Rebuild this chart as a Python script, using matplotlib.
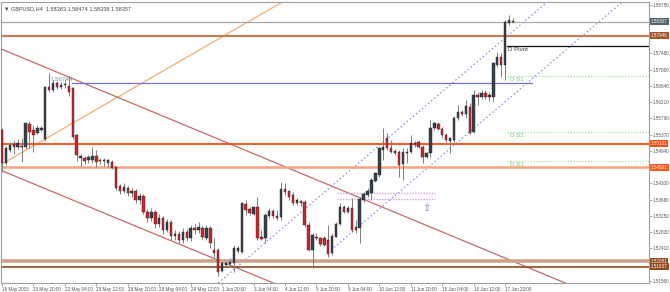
import matplotlib
matplotlib.use('Agg')
import matplotlib.pyplot as plt
from matplotlib.transforms import blended_transform_factory

plt.rcParams['font.family'] = ['Liberation Sans', 'DejaVu Sans']

title_text = "\u25bc GBPUSD,H4  1.58383 1.58474 1.58338 1.58357"

opens = [1.55490, 1.54632, 1.54970, 1.55126, 1.55048, 1.55074, 1.55048, 1.55646, 1.55490, 1.55412,
         1.55490, 1.55256, 1.56608, 1.56530, 1.56712, 1.56608, 1.56660, 1.56634, 1.56582, 1.55360,
         1.54762, 1.54762, 1.54710, 1.54710, 1.54814, 1.54710, 1.54684, 1.54632, 1.54658, 1.54528,
         1.54034, 1.53904, 1.53982, 1.53852, 1.53904, 1.53670, 1.53774, 1.53358, 1.53202, 1.53358,
         1.53046, 1.53202, 1.52890, 1.53098, 1.52734, 1.52786, 1.52630, 1.52838, 1.52682, 1.52942,
         1.52890, 1.52942, 1.52682, 1.52942, 1.52370, 1.52370, 1.51824, 1.51980, 1.52006, 1.52032,
         1.52344, 1.52318, 1.53566, 1.53436, 1.53306, 1.53488, 1.52708, 1.52682, 1.53254, 1.53384,
         1.53254, 1.53228, 1.53956, 1.53904, 1.53800, 1.53592, 1.53644, 1.53618, 1.53020, 1.52370,
         1.52708, 1.52682, 1.52682, 1.52630, 1.52292, 1.52708, 1.53046, 1.53488, 1.53358, 1.53462,
         1.52968, 1.52942, 1.53670, 1.53800, 1.53852, 1.54164, 1.54320, 1.54970, 1.55282, 1.55022,
         1.54892, 1.54918, 1.54606, 1.54892, 1.54918, 1.55152, 1.55178, 1.55048, 1.54788, 1.54892,
         1.55542, 1.55646, 1.55516, 1.55360, 1.55204, 1.55230, 1.55802, 1.55958, 1.55906, 1.56088,
         1.55438, 1.56400, 1.56348, 1.56452, 1.56348, 1.56348, 1.57180, 1.57388, 1.57180, 1.58272,
         1.58324]
highs = [1.55542, 1.55074, 1.55178, 1.55230, 1.55256, 1.55282, 1.55698, 1.55724, 1.55620, 1.55620,
         1.55594, 1.56634, 1.56972, 1.56790, 1.56764, 1.56738, 1.56816, 1.56894, 1.56608, 1.55386,
         1.54866, 1.54814, 1.54840, 1.55048, 1.54970, 1.54762, 1.54762, 1.54736, 1.54710, 1.54554,
         1.54086, 1.54112, 1.54034, 1.53982, 1.53956, 1.53852, 1.53826, 1.53436, 1.53462, 1.53410,
         1.53306, 1.53254, 1.53176, 1.53150, 1.52890, 1.52864, 1.52942, 1.52916, 1.53020, 1.53046,
         1.53098, 1.52994, 1.53020, 1.52994, 1.52682, 1.52422, 1.52058, 1.52084, 1.52162, 1.52500,
         1.52474, 1.53618, 1.53670, 1.53488, 1.53514, 1.53748, 1.52890, 1.53332, 1.53462, 1.53436,
         1.53410, 1.54138, 1.54112, 1.53930, 1.53878, 1.53722, 1.53670, 1.53670, 1.53098, 1.52812,
         1.52812, 1.52708, 1.52734, 1.53020, 1.52812, 1.53098, 1.53592, 1.53540, 1.53514, 1.53722,
         1.53150, 1.53748, 1.53878, 1.53982, 1.54242, 1.54398, 1.55048, 1.55542, 1.55412, 1.55230,
         1.54996, 1.54970, 1.55022, 1.55022, 1.55360, 1.55204, 1.55230, 1.55100, 1.54918, 1.55750,
         1.55698, 1.55698, 1.55568, 1.55412, 1.55308, 1.55854, 1.56140, 1.56010, 1.56270, 1.56192,
         1.56530, 1.56478, 1.56530, 1.56530, 1.56478, 1.57258, 1.57518, 1.57492, 1.58350, 1.58480,
         1.58402]
lows = [1.54398, 1.54580, 1.54918, 1.54866, 1.54996, 1.54658, 1.54996, 1.55022, 1.54918, 1.55386,
        1.55464, 1.55204, 1.56478, 1.56478, 1.56556, 1.56556, 1.56582, 1.56374, 1.55256, 1.54684,
        1.54554, 1.54606, 1.54632, 1.54632, 1.54528, 1.54606, 1.54554, 1.54528, 1.54476, 1.53930,
        1.53826, 1.53852, 1.53774, 1.53748, 1.53592, 1.53566, 1.53306, 1.53098, 1.53124, 1.52942,
        1.52968, 1.52786, 1.52838, 1.52630, 1.52630, 1.52552, 1.52552, 1.52604, 1.52604, 1.52786,
        1.52812, 1.52656, 1.52630, 1.52422, 1.52188, 1.51694, 1.51798, 1.51928, 1.51928, 1.51798,
        1.52292, 1.52292, 1.53280, 1.53280, 1.53280, 1.52630, 1.52630, 1.52552, 1.53202, 1.53202,
        1.53150, 1.53150, 1.53800, 1.53670, 1.53540, 1.53540, 1.53514, 1.52968, 1.52344, 1.51902,
        1.52630, 1.52474, 1.52474, 1.52188, 1.52240, 1.52708, 1.53020, 1.53332, 1.53332, 1.52838,
        1.52812, 1.52552, 1.53618, 1.53748, 1.53670, 1.54138, 1.54268, 1.54710, 1.54970, 1.54892,
        1.54840, 1.54268, 1.54190, 1.54632, 1.54892, 1.55048, 1.55022, 1.54632, 1.54762, 1.54788,
        1.55490, 1.55490, 1.55282, 1.55178, 1.54892, 1.55178, 1.55750, 1.55854, 1.55802, 1.55386,
        1.55412, 1.56140, 1.56296, 1.56296, 1.56244, 1.56218, 1.57128, 1.56868, 1.56790, 1.58220,
        1.58272]
closes = [1.54632, 1.55022, 1.55100, 1.55048, 1.55152, 1.55048, 1.55672, 1.55438, 1.55360, 1.55542,
          1.55542, 1.56608, 1.56530, 1.56712, 1.56608, 1.56660, 1.56686, 1.56478, 1.55308, 1.54840,
          1.54814, 1.54684, 1.54788, 1.54814, 1.54658, 1.54684, 1.54710, 1.54710, 1.54502, 1.53982,
          1.53904, 1.54008, 1.53852, 1.53904, 1.53670, 1.53774, 1.53358, 1.53202, 1.53358, 1.53046,
          1.53202, 1.52890, 1.53098, 1.52734, 1.52786, 1.52630, 1.52838, 1.52682, 1.52942, 1.52890,
          1.52968, 1.52708, 1.52942, 1.52552, 1.52292, 1.51798, 1.52032, 1.52032, 1.52058, 1.52422,
          1.52422, 1.53592, 1.53410, 1.53332, 1.53488, 1.52682, 1.52656, 1.53280, 1.53384, 1.53254,
          1.53202, 1.53956, 1.53878, 1.53748, 1.53592, 1.53670, 1.53592, 1.53020, 1.52370, 1.52760,
          1.52682, 1.52526, 1.52500, 1.52266, 1.52734, 1.53046, 1.53488, 1.53358, 1.53462, 1.52890,
          1.52890, 1.53696, 1.53826, 1.53904, 1.54190, 1.54372, 1.55022, 1.55048, 1.55022, 1.54918,
          1.54944, 1.54580, 1.54918, 1.54918, 1.55152, 1.55100, 1.55048, 1.54788, 1.54892, 1.55542,
          1.55672, 1.55516, 1.55360, 1.55230, 1.55282, 1.55802, 1.55958, 1.55906, 1.56114, 1.55412,
          1.56400, 1.56348, 1.56452, 1.56348, 1.56400, 1.57232, 1.57388, 1.57180, 1.58298, 1.58350,
          1.58307]

xtick_bars = [0, 8, 16, 24, 32, 40, 48, 56, 64, 72, 80, 88, 96, 104, 112, 120, 128]
xtick_labels = ["19 May 2015", "20 May 20:00", "22 May 04:00", "25 May 12:00", "26 May 20:00",
                "28 May 04:00", "29 May 12:00", "1 Jun 20:00", "3 Jun 04:00", "4 Jun 12:00",
                "5 Jun 20:00", "9 Jun 04:00", "10 Jun 12:00", "11 Jun 20:00", "15 Jun 04:00",
                "16 Jun 12:00", "17 Jun 20:00"]
ytick_values = [1.58750, 1.57480, 1.57060, 1.56640, 1.56210, 1.55790, 1.55370, 1.54940,
                1.54100, 1.53680, 1.53250, 1.52830, 1.52410, 1.51560]

# full-width horizontal levels
level_prices = [1.58307, 1.57946, 1.55131, 1.54521, 1.52081, 1.51937]
level_line_colors = ['#a9a9a9', '#bf7f5a', '#ff4a12', '#f7a283', '#c9a48a', '#8f4a1e']
level_line_widths = [0.9, 1.6, 1.3, 1.8, 2.6, 1.2]
level_box_colors = ['#56636e', '#a05428', '#ff4a12', '#ff5a1e', '#8f4a1e', '#8f4a1e']

# daily pivot levels
pivot_names = ['D Pivot', 'D S1', 'D S2', 'D S3']
pivot_prices = [1.57674, 1.56894, 1.55446, 1.54684]
pivot_start_bar = 128.6

# horizontal marker line (high)
high_line_price = 1.56720
high_line_label = '1.56744'
high_line_bars = (17.7, 134.8)

# trend lines (bar, price) pairs
tan_line = [(0.0, 1.54606), (45.8, 1.57310)]
red_upper = [(-0.5, 1.57609), (143.3, 1.51512)]
red_lower = [(-0.5, 1.54450), (69.0, 1.51512)]
blue_upper = [(55.0, 1.51512), (138.7, 1.58818)]
blue_lower = [(83.7, 1.52370), (157.8, 1.58818)]

# purple dotted box lines & arrow
purple_prices = [1.53852, 1.53696]
purple_bars = (85.2, 110.2)
arrow_pos = (108.0, 1.53462)

W, H = 670, 292
fig = plt.figure(figsize=(W / 100, H / 100), dpi=100)
fig.patch.set_facecolor('white')
ax = fig.add_axes([1 / W, 9 / H, 648 / W, 281 / H])
ax.set_xlim(-0.25, 164.6)
ax.set_ylim(1.51512, 1.58818)

for s in ax.spines.values():
    s.set_color('#a0a0a0')
    s.set_linewidth(0.8)

def ray(pts, extend_to, **kw):
    (x0, y0), (x1, y1) = pts
    slope = (y1 - y0) / (x1 - x0)
    ax.plot([x0, extend_to], [y0, y0 + slope * (extend_to - x0)], **kw)

ray(tan_line, 200, color='#f2b37c', lw=1.0, zorder=2)
ray(red_upper, 200, color='#c86a66', lw=0.9, zorder=2)
ray(red_lower, 200, color='#c86a66', lw=0.9, zorder=2)
ax.plot([p[0] for p in blue_upper], [p[1] for p in blue_upper], color='#8888f0', lw=0.9,
        ls=(0, (1.2, 2.0)), zorder=2)
ax.plot([p[0] for p in blue_lower], [p[1] for p in blue_lower], color='#8888f0', lw=0.9,
        ls=(0, (1.2, 2.0)), zorder=2)

for p, c, lw in zip(level_prices, level_line_colors, level_line_widths):
    ax.axhline(p, color=c, lw=lw, zorder=2)

ax.plot(high_line_bars, [high_line_price, high_line_price], color='#7070e0', lw=0.9, zorder=2)
ax.text(12.4, high_line_price + 0.00028, high_line_label, fontsize=4.4, color='#8a8a9a',
        ha='left', va='bottom', zorder=5)

for p in purple_prices:
    ax.plot(purple_bars, [p, p], color='#d49be6', lw=1.0, ls=(0, (1.0, 1.0)), zorder=2)
ax.text(arrow_pos[0], arrow_pos[1], '\u21e7', fontsize=7, color='#6f6fe0',
        ha='center', va='center', zorder=5, family='DejaVu Sans')

for name, p in zip(pivot_names, pivot_prices):
    if name == 'D Pivot':
        ax.plot([pivot_start_bar, 164.6], [p, p], color='#111111', lw=0.9, zorder=2)
        ax.text(pivot_start_bar + 0.2, p - 0.00030, name, fontsize=4.4, color='#333333',
                ha='left', va='top', zorder=5)
    else:
        ax.plot([pivot_start_bar, 164.6], [p, p], color='#9fe39f', lw=0.9,
                ls=(0, (1.0, 1.3)), zorder=2)
        ax.text(pivot_start_bar + 0.6, p - 0.00030, name, fontsize=4.4, color='#70d070',
                ha='left', va='top', zorder=5)

bull_body = '#37414b'
bear_body = '#d3242c'
wick_col = '#7d7d7d'
for i, (o, h, l, c) in enumerate(zip(opens, highs, lows, closes)):
    ax.vlines(i, l, h, color=wick_col, lw=0.7, zorder=3)
    bottom = min(o, c)
    height = max(abs(c - o), 0.00008)
    col = bull_body if c >= o else bear_body
    ax.bar(i, height, bottom=bottom, width=0.62, color=col, edgecolor='#222222',
           linewidth=0.3, zorder=4)

ax.yaxis.tick_right()
ax.set_yticks(ytick_values)
ax.set_yticklabels([f'{v:.5f}' for v in ytick_values])
ax.tick_params(axis='y', length=2, width=0.5, color='#888888', labelsize=3.3,
               labelcolor='#555555', pad=0.8)
ax.set_xticks(xtick_bars)
ax.set_xticklabels(xtick_labels, ha='left')
ax.tick_params(axis='x', length=2, width=0.5, color='#888888', labelsize=3.35,
               labelcolor='#555555', pad=1.0)

tr = blended_transform_factory(ax.transAxes, ax.transData)
for p, bc in zip(level_prices, level_box_colors):
    ax.text(1.003, p, f'{p:.5f}', transform=tr, fontsize=3.3, color='white',
            ha='left', va='center', clip_on=False, zorder=10,
            bbox=dict(boxstyle='square,pad=0.2', fc=bc, ec='none'))

ax.text(0.004, 0.985, title_text, transform=ax.transAxes, fontsize=4.0, color='#444444',
        ha='left', va='top', zorder=6)

fig.savefig('out.png', dpi=100, facecolor='white')
